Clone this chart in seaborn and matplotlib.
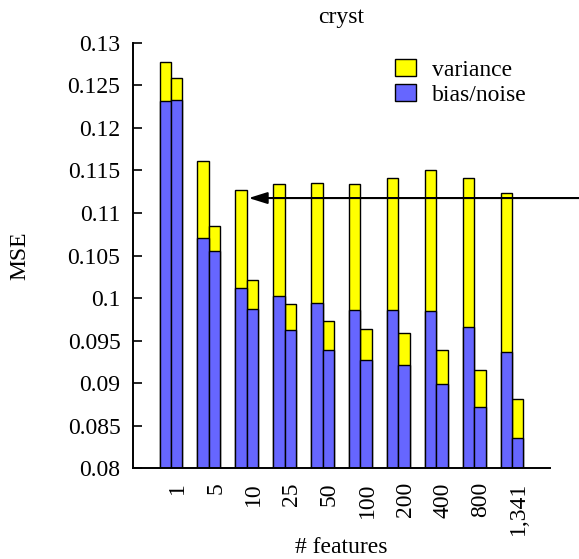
import matplotlib
matplotlib.use("Agg")
import matplotlib.pyplot as plt
from matplotlib.patches import Patch
import numpy as np
import pandas as pd
import seaborn as sns

# Number of features per group
features = ["1", "5", "10", "25", "50", "100", "200", "400", "800", "1,341"]

# Two estimators per group: total MSE and its bias/noise part
total_a = [0.1277, 0.1161, 0.1127, 0.1134, 0.1135, 0.1134, 0.1141, 0.1150, 0.1141, 0.1123]
bias_a = [0.1232, 0.1071, 0.1012, 0.1002, 0.0994, 0.0986, 0.0986, 0.0985, 0.0966, 0.0937]
total_b = [0.1259, 0.1085, 0.1021, 0.0993, 0.0973, 0.0964, 0.0959, 0.0939, 0.0915, 0.0881]
bias_b = [0.1233, 0.1055, 0.0987, 0.0962, 0.0939, 0.0927, 0.0921, 0.0899, 0.0872, 0.0836]

# Reference MSE level marked by the arrow
arrow_level = 0.11175

y_ticks = [0.08, 0.085, 0.09, 0.095, 0.1, 0.105, 0.11, 0.115, 0.12, 0.125, 0.13]
y_tick_labels = ["0.08", "0.085", "0.09", "0.095", "0.1", "0.105", "0.11",
                 "0.115", "0.12", "0.125", "0.13"]

YELLOW = "#FFFF00"
BLUE = "#6666FF"
FS = 17

df = pd.DataFrame({
    "features": features * 2,
    "model": ["a"] * len(features) + ["b"] * len(features),
    "total": total_a + total_b,
    "bias": bias_a + bias_b,
})

sns.set_theme(style="white")
plt.rcParams["font.family"] = ["Liberation Serif", "DejaVu Serif"]
plt.rcParams["font.size"] = FS
for key in ["text.color", "axes.labelcolor", "xtick.color", "ytick.color"]:
    plt.rcParams[key] = "black"

fig = plt.figure(figsize=(5.79, 5.59), dpi=100)
W, H = 579, 559
ax = fig.add_axes([133 / W, 1 - 468.3 / H, (550 - 133) / W, (468.3 - 42.7) / H])

common = dict(data=df, x="features", hue="model", order=features,
              hue_order=["a", "b"], width=0.6, gap=0, legend=False,
              edgecolor="black", linewidth=1.0, saturation=1, ax=ax)
sns.barplot(y="total", palette=[YELLOW, YELLOW], **common)
sns.barplot(y="bias", palette=[BLUE, BLUE], **common)

ax.set_xlim(-1, 10)
ax.set_ylim(0.08, 0.13)
ax.set_yticks(y_ticks)
ax.set_yticklabels(y_tick_labels, fontsize=FS)

# x tick labels: vertical, no tick marks, set slightly right of the group centre
ax.set_xticks(np.arange(len(features)) + 0.18)
ax.set_xticklabels(features, rotation=90, ha="center", va="top", fontsize=FS)
ax.tick_params(axis="x", length=0, pad=10)
ax.tick_params(axis="y", direction="in", length=6.5, width=1.2, pad=9,
               left=True, colors="black")

for side in ["top", "right"]:
    ax.spines[side].set_visible(False)
for side in ["left", "bottom"]:
    ax.spines[side].set_color("black")
    ax.spines[side].set_linewidth(1.4)

ax.set_xlabel("# features", fontsize=FS)
ax.xaxis.set_label_coords(0.5, -(537 - 468.3) / 425.6)
ax.set_ylabel("MSE", fontsize=FS)
ax.yaxis.set_label_coords(-(133 - 30) / 417, 0.5)
ax.set_title("cryst", fontsize=FS, pad=14)

# Arrow pointing at the reference bar
ax.annotate("", xy=(2.05, arrow_level), xycoords="data",
            xytext=(1.0, arrow_level), textcoords=("figure fraction", "data"),
            arrowprops=dict(arrowstyle="-|>,head_length=0.8,head_width=0.25",
                            mutation_scale=14, lw=1.5, color="black",
                            shrinkA=0, shrinkB=0),
            annotation_clip=False)

handles = [Patch(facecolor=YELLOW, edgecolor="black", linewidth=1.0, label="variance"),
           Patch(facecolor=BLUE, edgecolor="black", linewidth=1.0, label="bias/noise")]
fig.legend(handles=handles, loc="upper left", bbox_to_anchor=(395 / W, 1 - 59 / H),
           frameon=False, fontsize=FS, handlelength=0.88, handleheight=0.71,
           handletextpad=0.68, labelspacing=0.15, borderpad=0, borderaxespad=0)

fig.savefig("out.png", dpi=100)
